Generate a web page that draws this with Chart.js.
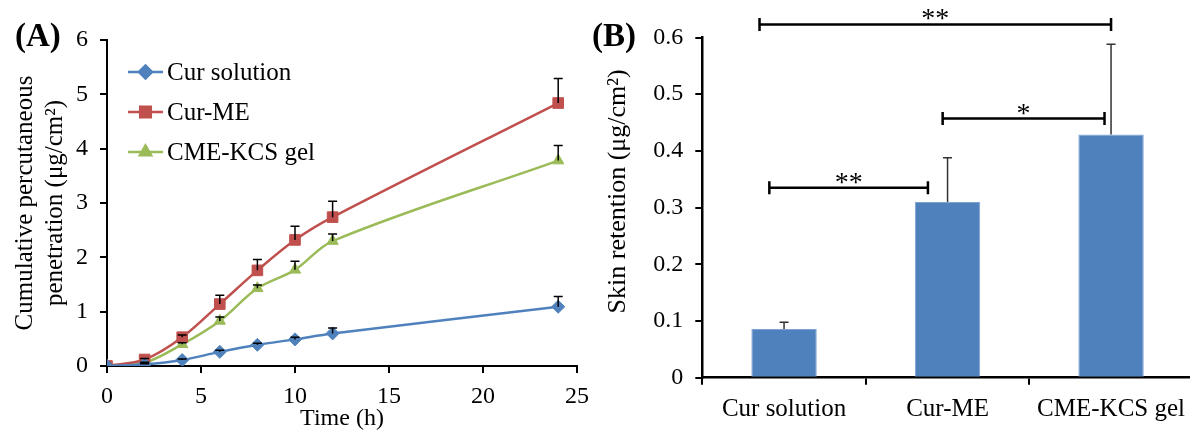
<!DOCTYPE html>
<html>
<head>
<meta charset="utf-8">
<script src="https://cdn.jsdelivr.net/npm/chart.js@4.4.1/dist/chart.umd.min.js"></script>
<style>
  html, body { margin: 0; padding: 0; background: #fff; overflow: hidden; width: 1190px; height: 431px; }
  #wrapA { position: absolute; left: 0; top: 0; width: 598px; height: 431px; }
  #wrapB { position: absolute; left: 590px; top: 0; width: 610px; height: 431px; }
</style>
</head>
<body>
<div id="wrapA"><canvas id="chartA" width="598" height="431"></canvas></div>
<div id="wrapB"><canvas id="chartB" width="610" height="431"></canvas></div>
<script>
// ---- Panel A : cumulative percutaneous penetration ----
const timePoints    = [0, 2, 4, 6, 8, 10, 12, 24];
const curSolution   = [0, 0.03, 0.11, 0.26, 0.39, 0.49, 0.60, 1.09];
const curSolutionSd = [0, 0.01, 0.02, 0.03, 0.03, 0.04, 0.10, 0.19];
const curME         = [0, 0.12, 0.53, 1.14, 1.76, 2.32, 2.74, 4.84];
const curMESd       = [0, 0.02, 0.04, 0.16, 0.20, 0.25, 0.29, 0.45];
const cmeGel        = [0, 0.06, 0.40, 0.83, 1.43, 1.77, 2.30, 3.78];
const cmeGelSd      = [0, 0.01, 0.03, 0.07, 0.06, 0.16, 0.13, 0.28];

// ---- Panel B : skin retention ----
const groups       = ['Cur solution', 'Cur-ME', 'CME-KCS gel'];
const retention    = [0.086, 0.310, 0.429];
const retentionSd  = [0.012, 0.078, 0.159];
// significance brackets (category units / value units)
const sigFrom  = [-0.15, 0.97, -0.09];
const sigTo    = [2.0, 1.96, 0.88];
const sigLevel = [0.623, 0.457, 0.335];
const sigMark  = ['**', '*', '**'];

const SERIF = "'Liberation Serif', 'Times New Roman', serif";
Chart.defaults.font.family = SERIF;
Chart.defaults.font.size = 24;
Chart.defaults.color = '#000';

const pts = arr => timePoints.map((t, i) => ({ x: t, y: arr[i] }));

// upward error bars with cap
const errorBars = {
  id: 'errorBars',
  afterDatasetsDraw(chart, args, opts) {
    const ctx = chart.ctx;
    const yScale = chart.scales.y;
    chart.data.datasets.forEach((ds, di) => {
      if (!ds.errorUp) return;
      const meta = chart.getDatasetMeta(di);
      ctx.save();
      ctx.strokeStyle = opts.color;
      ctx.lineWidth = opts.width;
      meta.data.forEach((el, i) => {
        const err = ds.errorUp[i];
        if (!err) return;
        const raw = ds.data[i];
        const v = typeof raw === 'object' ? raw.y : raw;
        const y0 = yScale.getPixelForValue(v);
        const y1 = yScale.getPixelForValue(v + err);
        ctx.beginPath();
        ctx.moveTo(el.x, y0);
        ctx.lineTo(el.x, y1);
        ctx.moveTo(el.x - opts.cap, y1);
        ctx.lineTo(el.x + opts.cap, y1);
        ctx.stroke();
      });
      ctx.restore();
    });
  }
};

// panel letter
const panelLabel = {
  id: 'panelLabel',
  afterDraw(chart, args, opts) {
    const ctx = chart.ctx;
    ctx.save();
    ctx.font = 'bold 33px ' + SERIF;
    ctx.fillStyle = '#000';
    ctx.textAlign = 'left';
    ctx.textBaseline = 'middle';
    ctx.fillText(opts.text, opts.x, opts.y);
    ctx.restore();
  }
};

// line + marker legend inside the plot
const inlineLegend = {
  id: 'inlineLegend',
  afterDraw(chart, args, opts) {
    const ctx = chart.ctx;
    const area = chart.chartArea;
    chart.data.datasets.forEach((ds, i) => {
      const x = area.left + opts.dx;
      const y = area.top + opts.dy + i * opts.rowGap;
      ctx.save();
      ctx.strokeStyle = ds.borderColor;
      ctx.lineWidth = ds.borderWidth;
      ctx.beginPath();
      ctx.moveTo(x, y);
      ctx.lineTo(x + 35, y);
      ctx.stroke();
      ctx.fillStyle = ds.pointBackgroundColor;
      Chart.helpers.drawPoint(ctx, {
        pointStyle: ds.pointStyle, radius: ds.pointRadius, rotation: 0, borderWidth: 1
      }, x + 17.5, y);
      ctx.fillStyle = '#000';
      ctx.font = '25px ' + SERIF;
      ctx.textAlign = 'left';
      ctx.textBaseline = 'middle';
      ctx.fillText(ds.label, x + 39, y + 1);
      ctx.restore();
    });
  }
};

// significance brackets for panel B
const sigBrackets = {
  id: 'sigBrackets',
  afterDraw(chart) {
    const ctx = chart.ctx;
    const xs = chart.scales.x, ys = chart.scales.y;
    ctx.save();
    ctx.strokeStyle = '#000';
    ctx.fillStyle = '#000';
    ctx.lineWidth = 2.5;
    ctx.font = '28px ' + SERIF;
    ctx.textAlign = 'center';
    ctx.textBaseline = 'alphabetic';
    sigLevel.forEach((lv, i) => {
      const x0 = xs.getPixelForValue(sigFrom[i]);
      const x1 = xs.getPixelForValue(sigTo[i]);
      const y = ys.getPixelForValue(lv);
      ctx.beginPath();
      ctx.moveTo(x0, y); ctx.lineTo(x1, y);
      ctx.moveTo(x0, y - 6.5); ctx.lineTo(x0, y + 6.5);
      ctx.moveTo(x1, y - 6.5); ctx.lineTo(x1, y + 6.5);
      ctx.stroke();
      ctx.fillText(sigMark[i], (x0 + x1) / 2, y + 3);
    });
    ctx.restore();
  }
};

const lineDs = (label, data, sd, color, style, r) => ({
  label, data: pts(data), errorUp: sd,
  borderColor: color, backgroundColor: color,
  pointBackgroundColor: color, pointBorderColor: color,
  borderWidth: 2.5, pointStyle: style, pointRadius: r, pointBorderWidth: 1,
  tension: 0.35, fill: false
});

new Chart(document.getElementById('chartA'), {
  type: 'line',
  data: {
    datasets: [
      lineDs('Cur solution', curSolution, curSolutionSd, '#4F81BD', 'rectRot', 6.5),
      lineDs('Cur-ME', curME, curMESd, '#C0504D', 'rect', 7.5),
      lineDs('CME-KCS gel', cmeGel, cmeGelSd, '#9BBB59', 'triangle', 6.5)
    ]
  },
  options: {
    responsive: false,
    animation: false,
    devicePixelRatio: 1,
    layout: { padding: { top: 40, right: 0, left: 0, bottom: 0 } },
    plugins: {
      legend: { display: false },
      tooltip: { enabled: false },
      errorBars: { color: '#000', width: 1.5, cap: 4.5 },
      panelLabel: { text: '(A)', x: 15, y: 37 },
      inlineLegend: { dx: 21, dy: 32, rowGap: 40 }
    },
    scales: {
      x: {
        type: 'linear', min: 0, max: 25,
        afterFit: s => { s.height = 65; },
        ticks: { stepSize: 5, padding: 9, font: { size: 24 } },
        grid: { drawOnChartArea: false, drawTicks: true, tickLength: 7, color: '#000', lineWidth: 2 },
        border: { color: '#000', width: 2 },
        title: { display: true, text: 'Time (h)', font: { size: 24, lineHeight: 1.0 }, padding: { top: 0, bottom: 0 } }
      },
      y: {
        min: 0, max: 6,
        afterFit: s => { s.width = 107; },
        ticks: { stepSize: 1, padding: 12, font: { size: 24 } },
        grid: { drawOnChartArea: false, drawTicks: true, tickLength: 7, color: '#000', lineWidth: 2 },
        border: { color: '#000', width: 2 },
        title: {
          display: true,
          text: ['Cumulative percutaneous', 'penetration (\u03bcg/cm\u00b2)'],
          font: { size: 25, lineHeight: 1.2 }, padding: { top: 10, bottom: 0 }
        }
      }
    }
  },
  plugins: [errorBars, panelLabel, inlineLegend]
});

new Chart(document.getElementById('chartB'), {
  type: 'bar',
  data: {
    labels: groups,
    datasets: [{
      label: 'Skin retention', data: retention, errorUp: retentionSd,
      backgroundColor: '#4F81BD', borderColor: '#7FA3D3', borderWidth: 1,
      categoryPercentage: 0.4, barPercentage: 1.0
    }]
  },
  options: {
    responsive: false,
    animation: false,
    devicePixelRatio: 1,
    layout: { padding: { top: 37.5, right: 7.2, left: 0, bottom: 0 } },
    plugins: {
      legend: { display: false },
      tooltip: { enabled: false },
      errorBars: { color: '#333', width: 1.5, cap: 4.5 },
      panelLabel: { text: '(B)', x: 2, y: 37 }
    },
    scales: {
      x: {
        afterFit: s => { s.height = 53.3; },
        ticks: { padding: 10, font: { size: 25 } },
        grid: { offset: true, drawOnChartArea: false, drawTicks: true, tickLength: 7, color: '#000', lineWidth: 2 },
        border: { color: '#000', width: 2.5 }
      },
      y: {
        min: 0, max: 0.6,
        afterFit: s => { s.width = 112.3; },
        ticks: { stepSize: 0.1, padding: 12, font: { size: 24 } },
        grid: { drawOnChartArea: false, drawTicks: true, tickLength: 7, color: '#000', lineWidth: 2 },
        border: { color: '#000', width: 2.5 },
        title: {
          display: true, text: '     Skin retention (\u03bcg/cm\u00b2)',
          font: { size: 26, lineHeight: 1.2 }, padding: { top: 13, bottom: 0 }
        }
      }
    }
  },
  plugins: [errorBars, panelLabel, sigBrackets]
});
</script>
</body>
</html>
